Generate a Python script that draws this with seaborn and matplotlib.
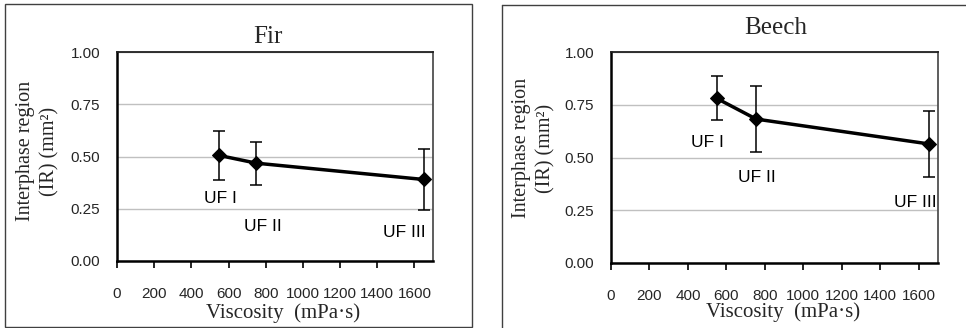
import matplotlib
matplotlib.use("Agg")
import matplotlib.pyplot as plt
import seaborn as sns
import pandas as pd
from matplotlib.patches import Rectangle
from matplotlib.lines import Line2D

# ---- data ----
resins = ["UF I", "UF II", "UF III"]
viscosity_fir = [550, 750, 1650]
ir_fir = [0.505, 0.468, 0.390]
err_fir = [0.119, 0.103, 0.147]

viscosity_beech = [550, 755, 1655]
ir_beech = [0.780, 0.682, 0.564]
err_beech = [0.104, 0.156, 0.158]

x_ticks = [0, 200, 400, 600, 800, 1000, 1200, 1400, 1600]
y_ticks = [0.00, 0.25, 0.50, 0.75, 1.00]
titles = ["Fir", "Beech"]

# label anchor points (data coords)
lab_fir_x = [559, 785, 1543]
lab_fir_y = [0.297, 0.163, 0.134]
lab_beech_x = [503, 760, 1584]
lab_beech_y = [0.573, 0.403, 0.289]

sns.set_theme(style="white")
serif = ["Liberation Serif", "DejaVu Serif"]
sans = ["Liberation Sans", "DejaVu Sans"]
plt.rcParams["font.family"] = sans

W, H = 966, 328
fig = plt.figure(figsize=(W / 100, H / 100), dpi=100)

def px_axes(l, r, t, b):
    return fig.add_axes([l / W, 1 - b / H, (r - l) / W, (b - t) / H])

ax1 = px_axes(117, 433, 52, 261)
ax2 = px_axes(611, 938, 52, 263)

# outer panel frames
fig.patches.append(Rectangle((5 / W, 1 / H), (472 - 5) / W, (324 - 1) / H,
                             transform=fig.transFigure, fill=False,
                             edgecolor="#404040", linewidth=1.0))
fig.lines.append(Line2D([502 / W, 502 / W], [0, 1 - 5 / H], transform=fig.transFigure,
                        color="#404040", linewidth=1.0))
fig.lines.append(Line2D([502 / W, 1.0], [1 - 5 / H, 1 - 5 / H], transform=fig.transFigure,
                        color="#404040", linewidth=1.0))

panels = [
    (ax1, viscosity_fir, ir_fir, err_fir, lab_fir_x, lab_fir_y, titles[0]),
    (ax2, viscosity_beech, ir_beech, err_beech, lab_beech_x, lab_beech_y, titles[1]),
]

for ax, xv, yv, ev, lx, ly, title in panels:
    df = pd.DataFrame({"x": xv, "y": yv, "resin": resins})
    ax.errorbar(df["x"], df["y"], yerr=ev, fmt="none", ecolor="black",
                elinewidth=1.1, capsize=4.5, capthick=1.1, zorder=3)
    sns.lineplot(data=df, x="x", y="y", ax=ax, color="black", linewidth=2.5,
                 marker="D", markersize=7.5, markeredgecolor="black",
                 markerfacecolor="black", zorder=4, sort=False)
    for name, tx, ty in zip(resins, lx, ly):
        ax.text(tx, ty, name, ha="center", va="center", fontsize=12.5,
                family=sans, color="black")

    ax.set_xlim(0, 1700)
    ax.set_ylim(0, 1.0)
    ax.set_xticks(x_ticks)
    ax.set_yticks(y_ticks)
    ax.set_xticklabels([str(v) for v in x_ticks], fontsize=11, family=sans)
    ax.set_yticklabels([f"{v:.2f}" for v in y_ticks], fontsize=11, family=sans)
    ax.tick_params(axis="x", direction="out", length=5, width=1.2, color="black",
                   pad=14, bottom=True)
    ax.tick_params(axis="y", which="major", length=0, pad=12)
    ax.set_yticks([0.0, 1.0], minor=True)
    ax.tick_params(axis="y", which="minor", direction="out", length=5, width=1.2,
                   color="black", left=True)

    ax.yaxis.grid(True, color="#c0c0c0", linewidth=1.0)
    ax.xaxis.grid(False)
    ax.set_axisbelow(True)
    for s in ["left", "bottom"]:
        ax.spines[s].set_color("black")
        ax.spines[s].set_linewidth(1.8)
    ax.spines["top"].set_color("#202020")
    ax.spines["top"].set_linewidth(1.3)
    ax.spines["right"].set_color("#505050")
    ax.spines["right"].set_linewidth(1.3)

    ax.set_xlabel("Viscosity  (mPa·s)", fontsize=15, family=serif, va="center")
    ax.set_ylabel("Interphase region\n(IR) (mm²)", fontsize=14.5, family=serif,
                  linespacing=1.35, va="center")

ax1.xaxis.set_label_coords((283 - 117) / (433 - 117), -(313 - 261) / (261 - 52))
ax2.xaxis.set_label_coords((783 - 611) / (938 - 611), -(312 - 263) / (263 - 52))
ax1.yaxis.set_label_coords(-(117 - 38) / (433 - 117), (261 - 151) / (261 - 52))
ax2.yaxis.set_label_coords(-(611 - 534) / (938 - 611), (263 - 148) / (263 - 52))

ax1.text((268 - 117) / (433 - 117), (261 - 37) / (261 - 52), titles[0],
         transform=ax1.transAxes, ha="center", va="center", fontsize=18, family=serif)
ax2.text((776 - 611) / (938 - 611), (263 - 28) / (263 - 52), titles[1],
         transform=ax2.transAxes, ha="center", va="center", fontsize=18, family=serif)

fig.savefig("out.png", dpi=100)
